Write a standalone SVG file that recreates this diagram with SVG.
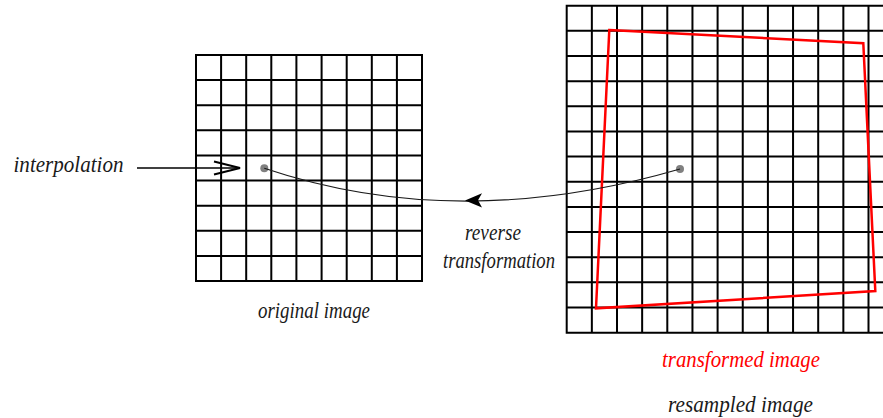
<svg xmlns="http://www.w3.org/2000/svg" width="883" height="418" viewBox="0 0 883 418">
<style>
.grid{fill:none;stroke:#000;stroke-width:2;stroke-linecap:square}
.lbl{font-family:"Liberation Serif","DejaVu Serif",serif;font-style:italic;font-size:24px;fill:#1a1a1a}
.red{fill:#ff0000}
.dot{fill:#808080}
.conn{fill:none;stroke:#1a1a1a;stroke-width:1.2}
</style>
<rect width="883" height="418" fill="#fff"/>
<g id="original-image">
<path class="grid" d="M196,55V281M221.1,55V281M246.2,55V281M271.3,55V281M296.4,55V281M321.6,55V281M346.7,55V281M371.8,55V281M396.9,55V281M422,55V281M196,55H422M196,80.1H422M196,105.2H422M196,130.3H422M196,155.4H422M196,180.6H422M196,205.7H422M196,230.8H422M196,255.9H422M196,281H422"/>
<circle class="dot" cx="264.3" cy="168.2" r="4"/>
<text class="lbl" x="314" y="318" text-anchor="middle" textLength="112" lengthAdjust="spacingAndGlyphs">original image</text>
</g>
<g id="resampled-image">
<path class="grid" d="M566.7,5.7V332.65M591.85,5.7V332.65M617,5.7V332.65M642.15,5.7V332.65M667.3,5.7V332.65M692.45,5.7V332.65M717.6,5.7V332.65M742.75,5.7V332.65M767.9,5.7V332.65M793.05,5.7V332.65M818.2,5.7V332.65M843.35,5.7V332.65M868.5,5.7V332.65M566.7,5.7H890M566.7,30.85H890M566.7,56H890M566.7,81.15H890M566.7,106.3H890M566.7,131.45H890M566.7,156.6H890M566.7,181.75H890M566.7,206.9H890M566.7,232.05H890M566.7,257.2H890M566.7,282.35H890M566.7,307.5H890M566.7,332.65H890"/>
<text class="lbl" x="740.5" y="411.5" text-anchor="middle" textLength="145" lengthAdjust="spacingAndGlyphs">resampled image</text>
</g>
<g id="transformed-image">
<polygon points="609.3,30 863.3,43.3 875.3,291 596,308.3" fill="none" stroke="#ff0000" stroke-width="2.5" stroke-linejoin="miter"/>
<circle class="dot" cx="680" cy="169" r="4"/>
<text class="lbl red" x="741" y="366.5" text-anchor="middle" textLength="158" lengthAdjust="spacingAndGlyphs">transformed image</text>
</g>
<g id="interpolation">
<text class="lbl" x="13.5" y="172" textLength="110" lengthAdjust="spacingAndGlyphs">interpolation</text>
</g>
<g id="connectors">
<path class="conn" d="M680,169 Q458,233.5 264.3,168.2"/>
<path d="M465,200.6 L482,193.3 L478,200.3 L482,207.6 Z" fill="#000"/>
<line x1="137" y1="168" x2="239" y2="168" stroke="#000" stroke-width="1.6"/>
<path d="M214,161.5 L240,168 L214,174.5" fill="none" stroke="#000" stroke-width="2"/>
<text class="lbl" x="493" y="240" text-anchor="middle" textLength="56" lengthAdjust="spacingAndGlyphs">reverse</text>
<text class="lbl" x="499" y="268" text-anchor="middle" textLength="112" lengthAdjust="spacingAndGlyphs">transformation</text>
</g>
</svg>
